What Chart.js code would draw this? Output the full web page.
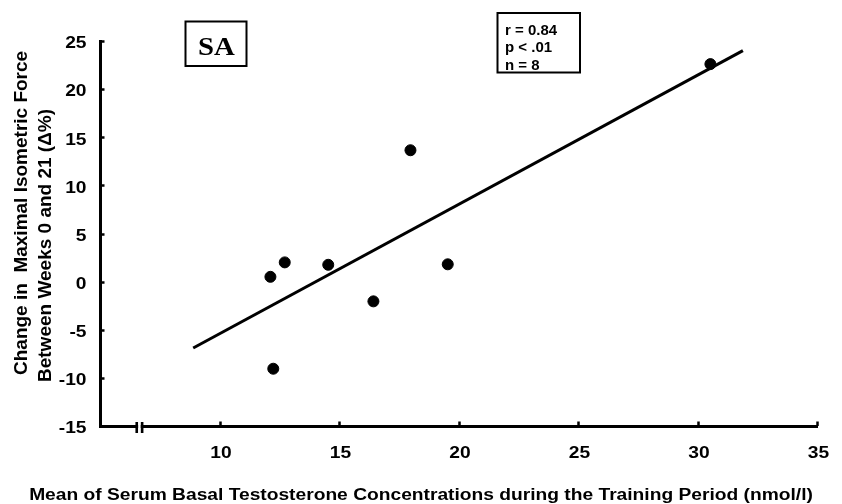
<!DOCTYPE html>
<html>
<head>
<meta charset="utf-8">
<script src="https://cdn.jsdelivr.net/npm/chart.js@4.4.1/dist/chart.umd.min.js"></script>
<style>
  html, body { margin: 0; padding: 0; background: #fff; }
  canvas { display: block; }
</style>
</head>
<body>
<canvas id="c" width="842" height="504"></canvas>
<script>
// Mean basal testosterone (nmol/l) vs. change in maximal isometric force (%)
const testosterone = [12.13, 12.73, 12.25, 14.55, 16.44, 17.99, 19.55, 30.54];
const forceChange  = [0.5, 2.0, -9.05, 1.75, -2.05, 13.65, 1.8, 22.6];

// Regression line end points
const fitX = [8.9, 31.9];
const fitY = [-6.9, 24.0];

const xTickValues = [10, 15, 20, 25, 30, 35];
const yTickValues = [-15, -10, -5, 0, 5, 10, 15, 20, 25];

const groupLabel = 'SA';
const statsLines = ['r = 0.84', 'p < .01', 'n = 8'];
const xTitle = 'Mean of Serum Basal Testosterone Concentrations during the Training Period (nmol/l)';
const yTitleLines = ['Change in  Maximal Isometric Force', 'Between Weeks 0 and 21 (\u0394%)'];

const SANS = '"Liberation Sans", Arial, sans-serif';
const SERIF = '"Liberation Serif", "Times New Roman", serif';

const points = testosterone.map((x, i) => ({ x, y: forceChange[i] }));
const fitLine = fitX.map((x, i) => ({ x, y: fitY[i] }));

// text drawn with a horizontal stretch factor
function wideText(ctx, text, x, y, sx, align) {
  ctx.save();
  ctx.translate(x, y);
  ctx.scale(sx, 1);
  ctx.textAlign = align;
  ctx.fillText(text, 0, 0);
  ctx.restore();
}

const decorations = {
  id: 'decorations',
  afterDraw(chart) {
    const { ctx, scales: { x, y } } = chart;
    const axisY = y.getPixelForValue(-15);
    const axisX = x.getPixelForValue(5);
    ctx.save();
    ctx.strokeStyle = '#000';
    ctx.fillStyle = '#000';
    ctx.textBaseline = 'alphabetic';

    // inward tick marks
    ctx.lineWidth = 2.5;
    ctx.beginPath();
    y.ticks.forEach(t => {
      const py = Math.round(y.getPixelForValue(t.value)) + 0.5;
      ctx.moveTo(axisX, py);
      ctx.lineTo(axisX + 4.5, py);
    });
    x.ticks.forEach(t => {
      const px = Math.round(x.getPixelForValue(t.value)) + 0.5;
      ctx.moveTo(px, axisY);
      ctx.lineTo(px, axisY - 4.5);
    });
    ctx.stroke();

    // tick labels
    ctx.font = 'bold 16px ' + SANS;
    y.ticks.forEach(t => {
      wideText(ctx, String(t.value), 86.5, y.getPixelForValue(t.value) + 7.3, 1.2, 'right');
    });
    x.ticks.forEach(t => {
      wideText(ctx, String(t.value), x.getPixelForValue(t.value) + 1.5, axisY + 31.8, 1.2, 'center');
    });

    // axis break on the x axis
    const bx = x.getPixelForValue(6.65);
    ctx.fillStyle = '#fff';
    ctx.fillRect(bx - 1.3, axisY - 3, 2.6, 6);
    ctx.fillStyle = '#000';
    ctx.lineWidth = 2.6;
    ctx.beginPath();
    ctx.moveTo(bx - 2.7, axisY - 4);
    ctx.lineTo(bx - 2.7, axisY + 7);
    ctx.moveTo(bx + 2.7, axisY - 4);
    ctx.lineTo(bx + 2.7, axisY + 7);
    ctx.stroke();

    // group label box
    ctx.lineWidth = 2;
    ctx.strokeRect(185.5, 21.5, 61, 44.5);
    ctx.font = 'bold 25px ' + SERIF;
    wideText(ctx, groupLabel, 216.5, 55, 1.15, 'center');

    // statistics box
    ctx.strokeRect(497.5, 13, 82.5, 59.5);
    ctx.font = 'bold 15px ' + SANS;
    ctx.textAlign = 'left';
    statsLines.forEach((t, i) => ctx.fillText(t, 505, 34.5 + i * 17.8));

    // x axis title
    ctx.font = 'bold 16px ' + SANS;
    wideText(ctx, xTitle, 421, 500, 1.2, 'center');

    // y axis title (two rotated lines)
    ctx.font = 'bold 19px ' + SANS;
    ctx.textAlign = 'left';
    const starts = [[26.5, 375], [50.5, 382]];
    yTitleLines.forEach((t, i) => {
      ctx.save();
      ctx.translate(starts[i][0], starts[i][1]);
      ctx.rotate(-Math.PI / 2);
      ctx.fillText(t, 0, 0);
      ctx.restore();
    });
    ctx.restore();
  }
};

new Chart(document.getElementById('c'), {
  type: 'scatter',
  data: {
    datasets: [
      {
        type: 'line',
        data: fitLine,
        borderColor: '#000',
        borderWidth: 3,
        pointRadius: 0,
        fill: false,
        tension: 0
      },
      {
        data: points,
        backgroundColor: '#000',
        borderColor: '#000',
        pointRadius: 5.5,
        pointHoverRadius: 5.5
      }
    ]
  },
  options: {
    responsive: false,
    animation: false,
    devicePixelRatio: 1,
    layout: { padding: { top: 41, right: 25, left: 0, bottom: 0 } },
    plugins: { legend: { display: false }, tooltip: { enabled: false } },
    scales: {
      x: {
        type: 'linear',
        min: 5,
        max: 35,
        afterFit: s => { s.height = 78; },
        afterBuildTicks: s => { s.ticks = xTickValues.map(v => ({ value: v })); },
        grid: { display: false, drawTicks: false },
        border: { display: true, color: '#000', width: 3 },
        ticks: { display: false }
      },
      y: {
        type: 'linear',
        min: -15,
        max: 25,
        afterFit: s => { s.width = 100; },
        afterBuildTicks: s => { s.ticks = yTickValues.map(v => ({ value: v })); },
        grid: { display: false, drawTicks: false },
        border: { display: true, color: '#000', width: 3 },
        ticks: { display: false }
      }
    }
  },
  plugins: [decorations]
});
</script>
</body>
</html>
